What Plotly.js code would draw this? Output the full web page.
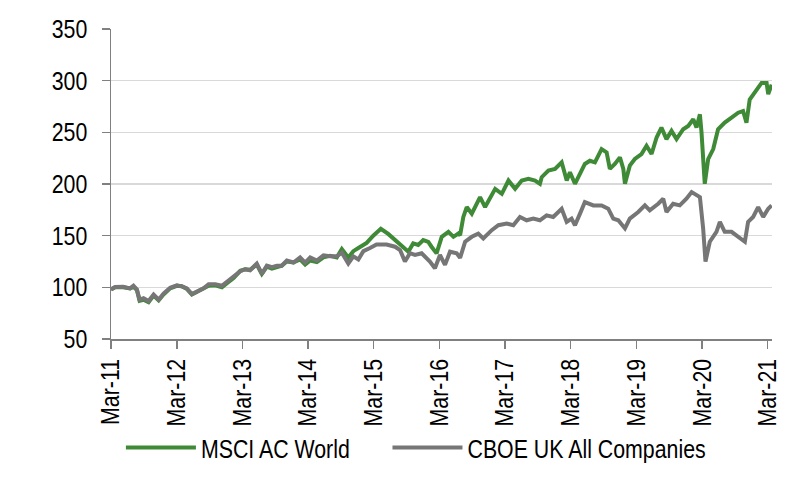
<!DOCTYPE html>
<html>
<head>
<meta charset="utf-8">
<script src="https://cdn.plot.ly/plotly-3.0.1.min.js"></script>
<style>html,body{margin:0;padding:0;background:#fff;}#chart{width:800px;height:483px;}</style>
</head>
<body>
<div id="chart"></div>
<script>
const msciDates = ["2011-03-01","2011-03-24","2011-05-08","2011-06-15","2011-07-04","2011-07-23","2011-08-07","2011-08-29","2011-09-26","2011-10-24","2011-11-21","2011-12-18","2012-01-24","2012-03-01","2012-03-29","2012-04-26","2012-05-24","2012-06-21","2012-07-28","2012-08-25","2012-10-01","2012-11-07","2012-12-05","2013-01-11","2013-02-17","2013-03-16","2013-04-13","2013-05-20","2013-06-17","2013-07-15","2013-08-12","2013-09-09","2013-10-06","2013-11-03","2013-12-10","2014-01-16","2014-02-13","2014-03-13","2014-04-19","2014-05-26","2014-07-01","2014-08-08","2014-09-05","2014-10-11","2014-11-08","2014-12-06","2015-01-21","2015-02-27","2015-04-10","2015-05-21",
"2015-06-28","2015-07-26","2015-09-10","2015-10-07","2015-11-04","2015-12-02","2015-12-30","2016-01-17","2016-02-14","2016-03-14","2016-04-20","2016-05-18","2016-06-14","2016-06-24","2016-07-12","2016-07-31","2016-08-28","2016-10-13","2016-11-10","2017-01-05","2017-02-11","2017-03-20","2017-04-26","2017-06-02","2017-07-09","2017-08-15","2017-09-11","2017-09-21","2017-10-28","2017-12-04","2018-01-10","2018-02-07","2018-02-25","2018-03-25","2018-04-22","2018-05-19",
"2018-06-16","2018-07-14","2018-08-20","2018-09-17","2018-10-05","2018-11-02","2018-11-30","2018-12-19","2018-12-28","2019-01-24","2019-02-21","2019-03-30","2019-04-27","2019-05-25","2019-06-22","2019-07-19","2019-08-16","2019-09-13","2019-10-11","2019-11-17","2019-12-15","2020-01-12","2020-01-30","2020-02-18","2020-02-27","2020-03-16","2020-04-04","2020-05-02","2020-05-29","2020-07-05","2020-08-12","2020-09-18","2020-10-15","2020-11-03","2020-11-21","2020-12-19","2021-01-07","2021-01-26","2021-02-23","2021-03-04","2021-03-23"];
const msciValues = [98,100,100,99,100.5,97.5,87,88,85.5,92,87.5,93,99,101.5,101,98.5,93,95.5,98,101.5,102,100,104,109,116,117.5,117,122,113,120,118,120,121,125,124,127,122,126,124.5,129,130.5,129,137,128.8,135,138,143,150,156.6,151.7,
145.7,142.5,134.5,142.5,141,145.7,144,139.3,132.9,148.9,153.7,148.9,152,150.5,168.1,177.7,171.3,187.3,177.7,195.3,190.5,203.4,195.3,203.4,205,203.4,200.2,206.6,213,214.6,221,203.4,211.4,200.2,209.8,219.4,
222.5,221,233.8,230.6,214.6,219.4,225.8,214.6,200.2,217.8,224.2,229,237,229,245,254.6,243.4,251.4,243.4,253,256.2,262.6,254.6,267.4,249.8,200.2,224.2,233.8,253,259.4,264.2,269,270.6,259.4,281.8,288.2,293,297.8,297.8,287,296.2];

const ukDates = ["2011-03-01","2011-03-24","2011-05-08","2011-06-15","2011-07-04","2011-07-23","2011-08-07","2011-08-29","2011-09-26","2011-10-24","2011-11-21","2011-12-18","2012-01-24","2012-03-01","2012-03-29","2012-04-26","2012-05-24","2012-06-21","2012-07-28","2012-08-25","2012-10-01","2012-11-07","2012-12-05","2013-01-11","2013-02-17","2013-03-16","2013-04-13","2013-05-20","2013-06-17","2013-07-15","2013-08-12","2013-09-09","2013-10-06","2013-11-03","2013-12-10","2014-01-16","2014-02-13","2014-03-13","2014-04-19","2014-05-26","2014-07-01","2014-08-08","2014-09-05","2014-10-11","2014-11-08","2014-12-06","2015-01-03","2015-02-09","2015-03-17","2015-05-12",
"2015-06-28","2015-07-26","2015-08-22","2015-09-19","2015-10-17","2015-11-23","2015-12-20","2016-01-08","2016-02-05","2016-03-04","2016-04-01","2016-04-29","2016-06-05","2016-06-24","2016-07-22","2016-08-28","2016-10-03","2016-10-31","2016-12-17","2017-01-23","2017-03-10","2017-04-16","2017-05-23","2017-06-29","2017-08-05","2017-09-11","2017-10-18","2017-11-24","2018-01-10","2018-02-07","2018-03-06","2018-03-25","2018-04-22","2018-05-19",
"2018-07-05","2018-08-20","2018-09-26","2018-10-24","2018-11-21","2018-12-28","2019-01-24","2019-03-12","2019-04-18","2019-05-15","2019-07-01","2019-07-29","2019-08-16","2019-09-22","2019-10-29","2019-12-05","2020-01-03","2020-01-30","2020-02-18","2020-03-07","2020-03-20","2020-04-13","2020-05-20","2020-06-08","2020-07-05","2020-08-12","2020-09-18","2020-10-25","2020-11-12","2020-12-10","2021-01-07","2021-02-04","2021-03-04","2021-03-23"];
const ukValues = [98,100.3,100.5,99,101.5,98,88,89.5,86.7,93,88,94,99.5,102,101,99,93.5,96,99,103,103,101.5,105.5,110,115.6,117.5,116.5,123,113,121,119.5,121,121,126,124,129,124,129,126,131,130,130,133.5,123,130,127,135,138,141.5,141.5,
139.3,136.1,125,133,131.3,133,128.5,125,118.5,131.3,121.7,134.5,133,128.5,144.1,148.9,152,147.3,155.3,160.1,161.7,160.1,168.1,164.9,166.5,164.9,169.7,168.1,176.1,163.3,166.5,160.1,171.3,182.5,
179.3,179.3,176.1,166.5,164.9,157,166.5,172.9,179.3,174.5,180.9,185.7,172.9,180.9,179.3,185.7,192.2,189,187.3,157,125,144.1,153.7,163.3,153.7,153.7,148.9,144.1,163.3,168.1,177.7,168.1,176.1,179.3];

const tickDates = ["2011-03-01","2012-03-01","2013-03-01","2014-03-01","2015-03-01","2016-03-01","2017-03-01","2018-03-01","2019-03-01","2020-03-01","2021-03-01"];
const tickLabels = ["Mar-11","Mar-12","Mar-13","Mar-14","Mar-15","Mar-16","Mar-17","Mar-18","Mar-19","Mar-20","Mar-21"];
const seriesNames = ["MSCI AC World","CBOE UK All Companies"];

const FONT = "'Liberation Sans', Arial, sans-serif";

const traces = [
  {x: msciDates, y: msciValues, name: seriesNames[0], type: "scatter", mode: "lines",
   line: {color: "#3f8a36", width: 4}},
  {x: ukDates, y: ukValues, name: seriesNames[1], type: "scatter", mode: "lines",
   line: {color: "#767676", width: 4}}
];

const layout = {
  width: 800, height: 483,
  margin: {l: 111, r: 28, t: 29, b: 142},
  paper_bgcolor: "#ffffff", plot_bgcolor: "#ffffff",
  font: {family: FONT, size: 26, color: "#000000"},
  showlegend: true,
  legend: {orientation: "h", x: 0.015, xanchor: "left", y: -0.35, yanchor: "middle",
           bgcolor: "rgba(0,0,0,0)",
           font: {family: FONT, size: 26, color: "#000"}, itemwidth: 70, traceorder: "normal"},
  xaxis: {
    type: "date", range: ["2011-03-01", "2021-03-25"], automargin: false,
    tickmode: "array", tickvals: tickDates, ticktext: tickLabels, tickangle: -90,
    showgrid: false, zeroline: false, showline: true, linecolor: "#808080", linewidth: 1.5,
    ticks: "outside", ticklen: 8, tickcolor: "#808080", tickwidth: 1.5,
    tickfont: {family: FONT, size: 26, color: "#000"}
  },
  yaxis: {
    range: [50, 350], tickmode: "array", tickvals: [50,100,150,200,250,300,350], automargin: false,
    showgrid: true, gridcolor: "#d9d9d9", gridwidth: 1.5, zeroline: false,
    showline: true, linecolor: "#808080", linewidth: 1.5,
    ticks: "outside", ticklen: 8, tickcolor: "#808080", tickwidth: 1.5,
    ticklabelstandoff: 9,
    tickfont: {family: FONT, size: 26, color: "#000"}
  }
};

Plotly.newPlot("chart", traces, layout, {displayModeBar: false, staticPlot: true}).then(function (gd) {
  gd.querySelectorAll(".xtick text, .ytick text, .legendtext").forEach(function (t) {
    const w = t.getComputedTextLength();
    t.setAttribute("textLength", (w * 0.82).toFixed(1));
    t.setAttribute("lengthAdjust", "spacingAndGlyphs");
  });
});
</script>
</body>
</html>
